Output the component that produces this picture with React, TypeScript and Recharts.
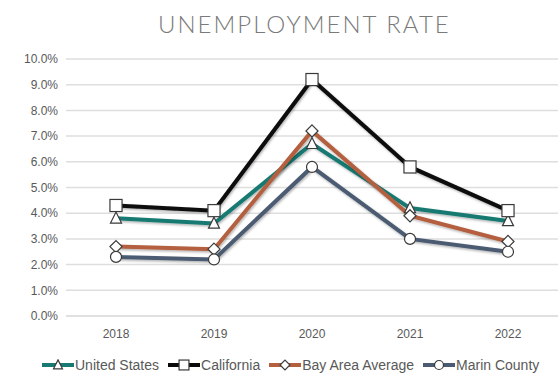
import React from 'react';
import { LineChart, Line, XAxis, YAxis, CartesianGrid } from 'recharts';

const years = ['2018', '2019', '2020', '2021', '2022'];
const unitedStates = [3.8, 3.6, 6.7, 4.2, 3.7];
const california = [4.3, 4.1, 9.2, 5.8, 4.1];
const bayArea = [2.7, 2.6, 7.2, 3.9, 2.9];
const marin = [2.3, 2.2, 5.8, 3.0, 2.5];
const yTicks = [0, 1, 2, 3, 4, 5, 6, 7, 8, 9, 10];

const data = years.map((y, i) => ({
  year: y,
  us: unitedStates[i],
  ca: california[i],
  bay: bayArea[i],
  marin: marin[i],
}));

type Shape = 'triangle' | 'square' | 'diamond' | 'circle';

const series: { key: string; name: string; color: string; shape: Shape }[] = [
  { key: 'us', name: 'United States', color: '#167a72', shape: 'triangle' },
  { key: 'bay', name: 'Bay Area Average', color: '#b4603f', shape: 'diamond' },
  { key: 'marin', name: 'Marin County', color: '#4b5b72', shape: 'circle' },
  { key: 'ca', name: 'California', color: '#0a0a0a', shape: 'square' },
];
const legendOrder = ['us', 'ca', 'bay', 'marin'];

const MARK_STROKE = '#3a3a3a';

function marker(shape: Shape, cx: number, cy: number, s: number, key?: string) {
  if (shape === 'square') {
    return <rect key={key} x={cx - s * 0.55} y={cy - s * 0.55} width={s * 1.1} height={s * 1.1} fill="#fff" stroke={MARK_STROKE} strokeWidth={1.2} />;
  }
  if (shape === 'triangle') {
    const h = s * 0.95;
    return (
      <polygon key={key}
        points={`${cx},${cy - h * 0.6} ${cx + s * 0.5},${cy + h * 0.45} ${cx - s * 0.5},${cy + h * 0.45}`}
        fill="#fff" stroke={MARK_STROKE} strokeWidth={1.2} />
    );
  }
  if (shape === 'diamond') {
    const r = s * 0.55;
    return (
      <polygon key={key}
        points={`${cx},${cy - r} ${cx + r},${cy} ${cx},${cy + r} ${cx - r},${cy}`}
        fill="#fff" stroke={MARK_STROKE} strokeWidth={1.2} />
    );
  }
  return <circle key={key} cx={cx} cy={cy} r={s * 0.5} fill="#fff" stroke={MARK_STROKE} strokeWidth={1.2} />;
}

const makeDot = (shape: Shape) => (props: any) => {
  const { cx, cy, index } = props;
  if (cx == null || cy == null) return <g key={`d-${index}`} />;
  return marker(shape, cx, cy, 11, `${shape}-${index}`);
};

const LegendContent = () => (
  <div style={{ display: 'flex', justifyContent: 'flex-start', alignItems: 'center', fontFamily: 'Liberation Sans, Arial, sans-serif', fontSize: 14, color: '#595959', whiteSpace: 'nowrap' }}>
    {legendOrder.map((k) => {
      const s = series.find((x) => x.key === k)!;
      return (
        <span key={k} style={{ display: 'inline-flex', alignItems: 'center', marginRight: 8 }}>
          <svg width={34} height={12} style={{ marginRight: 0 }}>
            <line x1={1} y1={6} x2={33} y2={6} stroke={s.color} strokeWidth={4} />
            {marker(s.shape, 17, 6, 9)}
          </svg>
          {s.name}
        </span>
      );
    })}
  </div>
);

export default function App() {
  return (
    <div style={{ position: 'absolute', left: 0, top: 0, width: 558, height: 373, background: '#fff', overflow: 'hidden' }}>
      <div style={{ position: 'absolute', left: 158, top: 9, fontFamily: 'Lato, "DejaVu Sans", sans-serif', fontWeight: 300, fontSize: 24, letterSpacing: 2, color: '#7a7a7a', whiteSpace: 'nowrap' }}>
        UNEMPLOYMENT RATE
      </div>
      <LineChart width={558} height={373} data={data} margin={{ top: 59, right: 0, left: 0, bottom: 0 }}>
        <defs>
          <filter id="lineShadow" x="-5%" y="-10%" width="110%" height="130%">
            <feDropShadow dx="1" dy="1.5" stdDeviation="1.2" floodColor="#000" floodOpacity="0.3" />
          </filter>
        </defs>
        <CartesianGrid vertical={false} stroke="#dedede" strokeWidth={1.5} />
        <XAxis dataKey="year" axisLine={{ stroke: '#dedede', strokeWidth: 1.5 }} tickLine={false} height={57}
          padding={{ left: 50, right: 50 }} tickMargin={7}
          tick={{ fontSize: 12, fill: '#595959', fontFamily: 'Liberation Sans, Arial, sans-serif' }} />
        <YAxis domain={[0, 10]} ticks={yTicks} interval={0} width={66} axisLine={false} tickLine={false}
          tickFormatter={(v: number) => `${v.toFixed(1)}%`}
          tick={{ fontSize: 12, fill: '#595959', fontFamily: 'Liberation Sans, Arial, sans-serif' }} />
        {series.map((s) => (
          <Line key={s.key} dataKey={s.key} name={s.name} stroke={s.color} strokeWidth={4} type="linear"
            filter="url(#lineShadow)"
            dot={makeDot(s.shape)} activeDot={false} isAnimationActive={false} />
        ))}
      </LineChart>
      <div style={{ position: 'absolute', left: 41, top: 357, width: 540 }}>
        <LegendContent />
      </div>
    </div>
  );
}
